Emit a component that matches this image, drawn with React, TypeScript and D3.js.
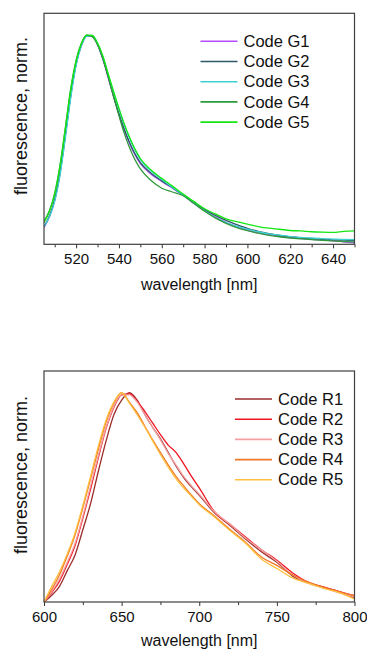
import React, { useEffect, useRef } from 'react';
import { select, scaleLinear, line, curveMonotoneX, axisBottom } from 'd3';

// green set, normalised fluorescence vs wavelength
const WL_G = [505, 507.5, 510, 512.5, 515, 517.5, 520, 522.5, 525, 527.5, 530, 532.5, 535, 537.5, 540, 542.5, 545, 550, 555, 560, 565, 570, 575, 580, 585, 590, 595, 600, 605, 610, 615, 620, 625, 630, 635, 640, 645, 650];
const G1 = [0.08, 0.13, 0.21, 0.34, 0.52, 0.71, 0.86, 0.95, 0.995, 0.995, 0.955, 0.885, 0.795, 0.705, 0.62, 0.545, 0.48, 0.385, 0.335, 0.3, 0.268, 0.235, 0.195, 0.16, 0.13, 0.105, 0.085, 0.068, 0.055, 0.046, 0.038, 0.032, 0.028, 0.024, 0.02, 0.017, 0.012, 0.007];
const G2 = [0.085, 0.135, 0.215, 0.345, 0.525, 0.715, 0.865, 0.955, 0.998, 0.995, 0.955, 0.885, 0.8, 0.71, 0.625, 0.55, 0.485, 0.39, 0.34, 0.303, 0.27, 0.236, 0.198, 0.166, 0.138, 0.114, 0.094, 0.076, 0.062, 0.051, 0.042, 0.036, 0.031, 0.027, 0.024, 0.021, 0.02, 0.018];
const G3 = [0.085, 0.13, 0.205, 0.33, 0.51, 0.7, 0.855, 0.95, 0.995, 0.998, 0.96, 0.895, 0.81, 0.725, 0.645, 0.57, 0.505, 0.405, 0.35, 0.31, 0.272, 0.236, 0.196, 0.16, 0.128, 0.104, 0.086, 0.072, 0.06, 0.05, 0.044, 0.037, 0.033, 0.03, 0.027, 0.025, 0.023, 0.022];
const G4 = [0.11, 0.16, 0.245, 0.38, 0.56, 0.745, 0.88, 0.962, 1.0, 0.992, 0.955, 0.89, 0.8, 0.705, 0.615, 0.53, 0.46, 0.36, 0.305, 0.268, 0.25, 0.232, 0.196, 0.158, 0.126, 0.1, 0.08, 0.065, 0.053, 0.043, 0.036, 0.03, 0.026, 0.022, 0.019, 0.016, 0.013, 0.012];
const G5 = [0.105, 0.155, 0.24, 0.375, 0.555, 0.74, 0.875, 0.96, 1.0, 0.998, 0.962, 0.9, 0.815, 0.73, 0.65, 0.575, 0.51, 0.41, 0.355, 0.315, 0.278, 0.24, 0.205, 0.17, 0.145, 0.122, 0.108, 0.096, 0.085, 0.077, 0.072, 0.066, 0.064, 0.06, 0.058, 0.057, 0.062, 0.064];
const G_NAMES = ['Code G1', 'Code G2', 'Code G3', 'Code G4', 'Code G5'];
const G_COLORS = ['#b44cff', '#2f5868', '#3cd2d2', '#2e9a3a', '#14e614'];
const G_MAJOR = [520, 540, 560, 580, 600, 620, 640];
const G_MINOR = [510, 530, 550, 570, 590, 610, 630, 650];

// red set
const WL_R = [600, 605, 610, 615, 620, 625, 630, 635, 640, 645, 650, 655, 660, 665, 670, 675, 680, 685, 690, 695, 700, 710, 720, 730, 740, 750, 760, 770, 780, 790, 800];
const R1 = [0.0, 0.032, 0.075, 0.15, 0.225, 0.345, 0.47, 0.625, 0.77, 0.895, 0.965, 1.0, 0.965, 0.895, 0.835, 0.78, 0.715, 0.65, 0.595, 0.55, 0.51, 0.425, 0.365, 0.3, 0.24, 0.19, 0.125, 0.092, 0.07, 0.05, 0.02];
const R2 = [0.0, 0.045, 0.1, 0.18, 0.27, 0.4, 0.54, 0.69, 0.83, 0.93, 0.99, 0.995, 0.96, 0.91, 0.855, 0.8, 0.75, 0.715, 0.66, 0.6, 0.545, 0.43, 0.37, 0.31, 0.25, 0.2, 0.14, 0.095, 0.072, 0.05, 0.03];
const R3 = [0.0, 0.05, 0.11, 0.19, 0.28, 0.41, 0.555, 0.7, 0.835, 0.935, 0.99, 0.99, 0.955, 0.895, 0.835, 0.775, 0.71, 0.655, 0.6, 0.555, 0.515, 0.43, 0.37, 0.305, 0.25, 0.195, 0.13, 0.09, 0.068, 0.045, 0.025];
const R4 = [0.0, 0.06, 0.13, 0.22, 0.32, 0.45, 0.59, 0.73, 0.86, 0.95, 1.0, 0.955, 0.905, 0.84, 0.775, 0.715, 0.655, 0.6, 0.555, 0.51, 0.47, 0.41, 0.345, 0.285, 0.215, 0.175, 0.13, 0.095, 0.07, 0.05, 0.03];
const R5 = [0.0, 0.075, 0.145, 0.23, 0.33, 0.46, 0.6, 0.745, 0.87, 0.955, 1.0, 0.95, 0.895, 0.835, 0.77, 0.705, 0.645, 0.59, 0.545, 0.505, 0.465, 0.405, 0.34, 0.28, 0.205, 0.16, 0.115, 0.09, 0.065, 0.045, 0.015];
const R_NAMES = ['Code R1', 'Code R2', 'Code R3', 'Code R4', 'Code R5'];
const R_COLORS = ['#9c2c2c', '#f01420', '#f5a0a0', '#f07828', '#ffbe3c'];
const R_MAJOR = [600, 650, 700, 750, 800];
const R_MINOR = [625, 675, 725, 775];

const FONT = "Arial, 'Liberation Sans', sans-serif";

function Panel({ id, top, xDomain, wl, series, names, colors, major, minor, legendX, titleY, yTitleY }) {
  const axRef = useRef(null);
  const minorRef = useRef(null);
  const left = 44, right = 354.5, bottom = top + 231;

  const x = scaleLinear().domain(xDomain).range([left, right]);
  const y = scaleLinear().domain([0, 1.104]).range([bottom, top]);
  const path = line().x((d) => x(d[0])).y((d) => y(d[1])).curve(curveMonotoneX);

  useEffect(() => {
    const g = select(axRef.current)
      .call(axisBottom(x).tickValues(major).tickSize(4).tickPadding(5).tickFormat((d) => String(d)));
    g.select('.domain').remove();
    g.selectAll('line').attr('stroke', '#333');
    g.selectAll('text').attr('font-size', 15).attr('font-family', FONT).attr('fill', '#111');

    const m = select(minorRef.current)
      .call(axisBottom(x).tickValues(minor).tickSize(3).tickFormat(() => ''));
    m.select('.domain').remove();
    m.selectAll('line').attr('stroke', '#333');
  }, []);

  return (
    <g>
      <defs>
        <clipPath id={id}>
          <rect x={left} y={top} width={right - left} height={bottom - top} />
        </clipPath>
      </defs>
      <g clipPath={`url(#${id})`}>
        {series.map((s, i) => (
          <path key={i} d={path(wl.map((w, j) => [w, s[j]]))} fill="none" stroke={colors[i]} strokeWidth={1.3} />
        ))}
      </g>
      <g ref={minorRef} transform={`translate(0,${bottom})`} />
      <g ref={axRef} transform={`translate(0,${bottom})`} />
      <rect x={left} y={top} width={right - left} height={bottom - top} fill="none" stroke="#404040" strokeWidth={1.2} />

      {names.map((n, i) => (
        <g key={n} transform={`translate(${legendX},${top + 28 + i * 20.2})`}>
          <line x1={0} x2={37} y1={0} y2={0} stroke={colors[i]} strokeWidth={1.6} />
          <text x={43} y={5.6} fontSize={16.5} fontFamily={FONT} fill="#111">{n}</text>
        </g>
      ))}

      <text x={(left + right) / 2} y={titleY} textAnchor="middle" fontSize={16} fontFamily={FONT} fill="#111">
        wavelength [nm]
      </text>
      <text transform={`translate(26.5,${yTitleY}) rotate(-90)`} textAnchor="middle" fontSize={18} fontFamily={FONT} fill="#111">
        fluorescence, norm.
      </text>
    </g>
  );
}

export default function App() {
  return (
    <div>
      <style>{'body{margin:0}'}</style>
      <svg width={367} height={650} style={{ display: 'block', background: '#fff' }}>
        <Panel id="clipG" top={13.3} xDomain={[505, 650]} wl={WL_G} series={[G1, G2, G3, G4, G5]}
          names={G_NAMES} colors={G_COLORS} major={G_MAJOR} minor={G_MINOR}
          legendX={200.5} titleY={289.5} yTitleY={116} />
        <Panel id="clipR" top={371} xDomain={[600, 800]} wl={WL_R} series={[R1, R2, R3, R4, R5]}
          names={R_NAMES} colors={R_COLORS} major={R_MAJOR} minor={R_MINOR}
          legendX={235} titleY={646} yTitleY={475} />
      </svg>
    </div>
  );
}
